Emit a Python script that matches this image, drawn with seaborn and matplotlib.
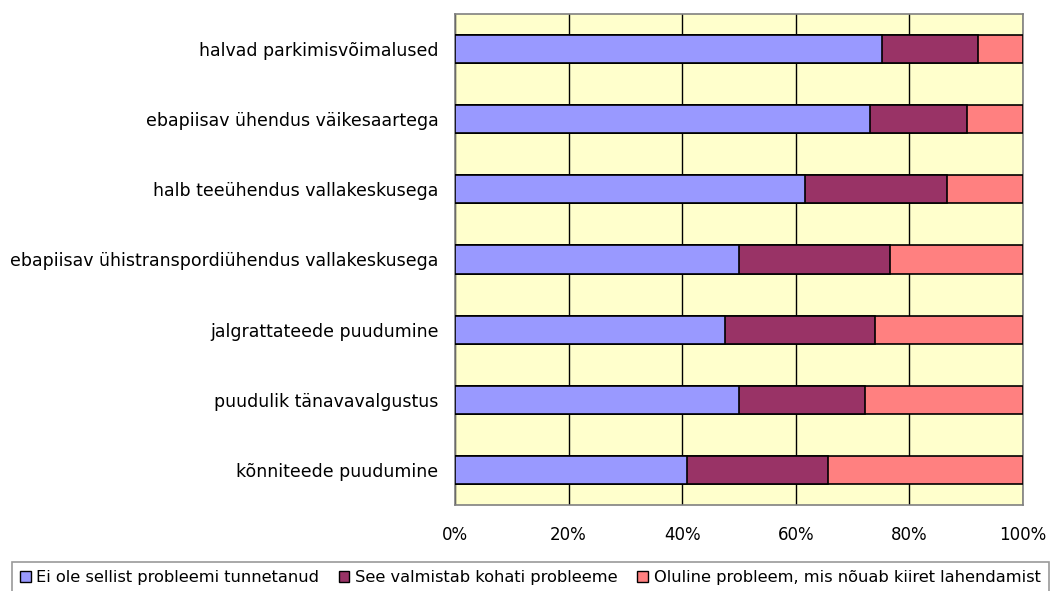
import numpy as np
import pandas as pd
import matplotlib
matplotlib.use('Agg')
import matplotlib.pyplot as plt
import seaborn as sns
from matplotlib.patches import Patch
from matplotlib.ticker import FixedLocator, PercentFormatter

# Data (shares)
categories = ['halvad parkimisvõimalused',
              'ebapiisav ühendus väikesaartega',
              'halb teeühendus vallakeskusega',
              'ebapiisav ühistranspordiühendus vallakeskusega',
              'jalgrattateede puudumine',
              'puudulik tänavavalgustus',
              'kõnniteede puudumine']
no_problem = [75.2, 73.1, 61.6, 50.0, 47.5, 50.0, 40.8]
sometimes = [16.8, 17.0, 25.0, 26.5, 26.5, 22.2, 24.9]
serious = [8.0, 9.9, 13.4, 23.5, 26.0, 27.8, 34.3]
series_names = ['Ei ole sellist probleemi tunnetanud',
                'See valmistab kohati probleeme',
                'Oluline probleem, mis nõuab kiiret lahendamist']
colors = ['#9999FF', '#993366', '#FF8080']

df = pd.DataFrame({'cat': categories, 'a': no_problem, 'b': sometimes, 'c': serious})
df['ab'] = df['a'] + df['b']
df['abc'] = df['ab'] + df['c']

sns.set_style('white')
plt.rcParams['font.family'] = ['DejaVu Sans']
plt.rcParams['text.color'] = 'black'
plt.rcParams['xtick.color'] = 'black'
plt.rcParams['ytick.color'] = 'black'

fig = plt.figure(figsize=(10.52, 5.91), dpi=100)
ax = fig.add_axes([455/1052, 1 - 505/591, 568/1052, 491/591])
ax.set_facecolor('#FFFFCC')

# stacked bars drawn as overlapping cumulative totals
for col, color in zip(['abc', 'ab', 'a'], colors[::-1]):
    sns.barplot(data=df, x=col, y='cat', color=color, orient='h', width=0.4,
                edgecolor='black', linewidth=1.2, saturation=1, ax=ax, zorder=3)

ax.set_xlim(0, 100)
ax.set_ylim(6.5, -0.5)
ax.xaxis.set_major_locator(FixedLocator([0, 20, 40, 60, 80, 100]))
ax.xaxis.set_major_formatter(PercentFormatter(decimals=0))
ax.grid(axis='x', color='black', linewidth=1, zorder=0)
ax.set_axisbelow(True)
ax.set_xlabel('')
ax.set_ylabel('')

for s in ax.spines.values():
    s.set_color('#808080')
    s.set_linewidth(1.2)
    s.set_visible(True)

ax.tick_params(axis='x', direction='out', length=6, color='black', labelsize=12,
               labelcolor='black', pad=9)
ax.tick_params(axis='y', which='major', length=0, labelsize=12.5, labelcolor='black', pad=12)
ax.yaxis.set_minor_locator(FixedLocator(np.arange(-0.5, 7, 1)))
ax.tick_params(axis='y', which='minor', direction='out', length=7, color='#808080', width=1.2)
ax.tick_params(axis='x', which='minor', length=0)

handles = [Patch(facecolor=c, edgecolor='black', linewidth=1) for c in colors]
leg = fig.legend(handles, series_names, loc='upper left', bbox_to_anchor=(12/1052, 1 - 562/591),
                 ncol=3, frameon=True, fancybox=False, fontsize=11.7, handlelength=0.65,
                 handleheight=0.65, handletextpad=0.35, columnspacing=1.2,
                 borderpad=0.5, borderaxespad=0)
leg.get_frame().set_edgecolor('#808080')
leg.get_frame().set_linewidth(1.2)

fig.savefig('out.png', dpi=100)
